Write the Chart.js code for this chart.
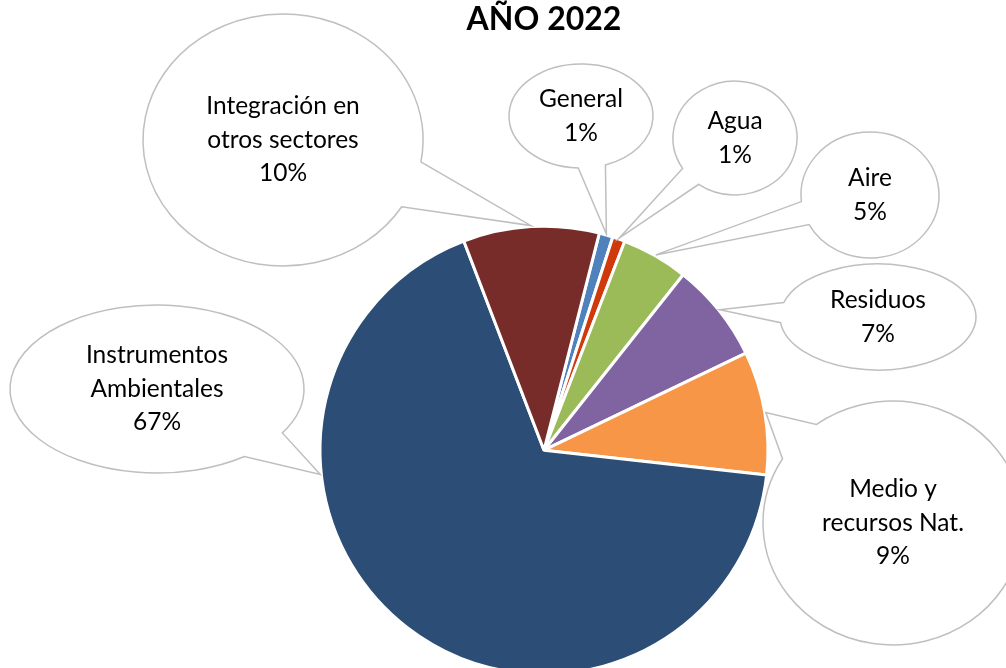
<!DOCTYPE html>
<html>
<head>
<meta charset="utf-8">
<script src="https://cdn.jsdelivr.net/npm/chart.js@4/dist/chart.umd.min.js"></script>
<style>
  html, body { margin: 0; padding: 0; background: #fff; overflow: hidden; }
  #wrap { width: 1006px; height: 668px; overflow: hidden; }
</style>
</head>
<body>
<div id="wrap"><canvas id="chart" width="1006" height="862"></canvas></div>
<script>
// data
const categories = [
  ["General"],
  ["Agua"],
  ["Aire"],
  ["Residuos"],
  ["Medio y", "recursos Nat."],
  ["Instrumentos", "Ambientales"],
  ["Integración en", "otros sectores"],
];
const values = [1.0, 0.9, 4.8, 7.2, 8.9, 67.4, 9.8];
const colors = ["#4F81BD", "#D0390B", "#9BBB59", "#8064A2", "#F79646", "#2C4D75", "#772C2A"];

// callout bubbles (wedge ellipse), one per slice; "at" = where along the slice the tail points
const bubbles = [
  { cx: 581, cy: 116, rx: 72, ry: 52, at: 0.5 },
  { cx: 735, cy: 138, rx: 62, ry: 57, at: 0.5 },
  { cx: 870, cy: 195, rx: 69, ry: 63, at: 0.5 },
  { cx: 878, cy: 317, rx: 98, ry: 53, at: 0.5 },
  { cx: 893, cy: 523, rx: 130, ry: 122, at: 0.5 },
  { cx: 157, cy: 389, rx: 147, ry: 84, at: 0.69 },
  { cx: 283, cy: 140, rx: 140, ry: 126, at: 0.5 },
];

const calloutPlugin = {
  id: "callouts",
  afterDatasetsDraw(chart) {
    const ctx = chart.ctx;
    const meta = chart.getDatasetMeta(0);
    const total = values.reduce((a, b) => a + b, 0);
    const spread = 11 * Math.PI / 180;
    meta.data.forEach((arc, i) => {
      const b = bubbles[i];
      const ang = arc.startAngle + (arc.endAngle - arc.startAngle) * b.at;
      const r = arc.outerRadius + 1;
      const tx = arc.x + Math.cos(ang) * r;
      const ty = arc.y + Math.sin(ang) * r;
      const a = Math.atan2((ty - b.cy) / b.ry, (tx - b.cx) / b.rx);

      ctx.save();
      ctx.beginPath();
      ctx.ellipse(b.cx, b.cy, b.rx, b.ry, 0, a + spread, a - spread + Math.PI * 2);
      ctx.lineTo(tx, ty);
      ctx.closePath();
      ctx.fillStyle = "#ffffff";
      ctx.fill();
      ctx.lineWidth = 1.5;
      ctx.strokeStyle = "#BFBFBF";
      ctx.stroke();

      const lines = categories[i].concat([Math.round(values[i] / total * 100) + "%"]);
      ctx.fillStyle = "#000000";
      ctx.font = "24.5px Lato";
      ctx.textAlign = "center";
      ctx.textBaseline = "middle";
      const lh = 33.5;
      const y0 = b.cy - (lines.length - 1) * lh / 2;
      lines.forEach((ln, k) => ctx.fillText(ln, b.cx, y0 + k * lh));
      ctx.restore();
    });
  },
};

new Chart(document.getElementById("chart").getContext("2d"), {
  type: "pie",
  data: {
    labels: categories,
    datasets: [
      {
        data: values,
        backgroundColor: colors,
        borderColor: "#ffffff",
        borderWidth: 3,
      },
    ],
  },
  options: {
    responsive: false,
    animation: false,
    rotation: 14.3,
    radius: 224,
    layout: { padding: { left: 82, right: 0, top: 0, bottom: 0 } },
    plugins: {
      legend: { display: false },
      tooltip: { enabled: false },
      title: {
        display: true,
        text: "AÑO 2022",
        color: "#000000",
        font: { family: "Lato", size: 32, weight: "bold", lineHeight: 1.2 },
        padding: { top: 0, bottom: 0 },
      },
    },
  },
  plugins: [calloutPlugin],
});
</script>
</body>
</html>
